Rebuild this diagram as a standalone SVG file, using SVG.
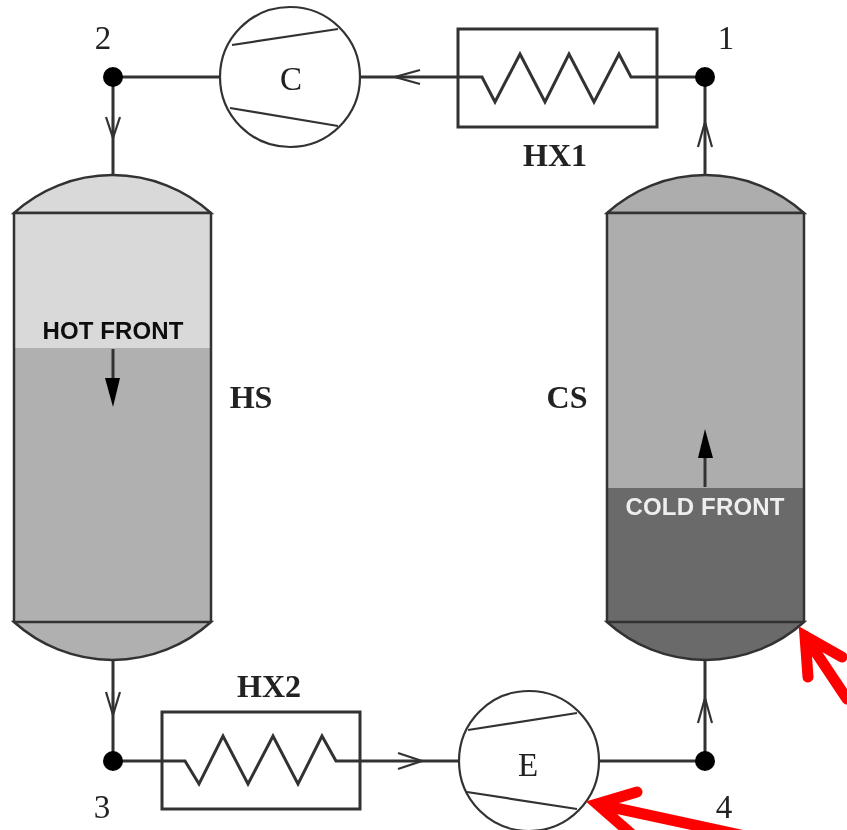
<svg xmlns="http://www.w3.org/2000/svg" width="847" height="830" viewBox="0 0 847 830">
  <style>
    .ln { fill: none; stroke: #333; stroke-width: 3; }
    .thin { fill: none; stroke: #333; stroke-width: 2.2; }
    .head { fill: none; stroke: #333; stroke-width: 2.2; }
    .tank { stroke: #333; stroke-width: 2.5; }
    .lab { font-family: "Liberation Serif", "Times New Roman", serif; font-size: 33px; fill: #222; }
    .b { font-weight: bold; font-size: 32px; }
    .front { font-family: "Liberation Sans", Arial, sans-serif; font-size: 24px; font-weight: bold; }
    .dot { fill: #000; }
    .red { fill: none; stroke: #f00; stroke-width: 11; stroke-linecap: round; stroke-linejoin: miter; stroke-miterlimit: 10; }
  </style>
  <defs>
    <filter id="soft" x="-5%" y="-5%" width="110%" height="110%"><feGaussianBlur stdDeviation="0.6"/></filter>
  </defs>
  <rect width="847" height="830" fill="#fff"/>
  <g filter="url(#soft)">
    <g id="connectors">
      <path class="ln" d="M113 77H220M360 77H458M657 77H705M113 77V175M113 661V761M113 761H162M360 761H459M599 761H705M705 761V661M705 175V77"/>
      <path class="head" d="M106 117L113 138L120 117M113 117V138"/>
      <path class="head" d="M106 692L113 715L120 692M113 692V715"/>
      <path class="head" d="M420 70L395 77L420 84"/>
      <path class="head" d="M398 753L422 761L398 769"/>
      <path class="head" d="M698 147L705 122L712 147"/>
      <path class="head" d="M698 723L705 698L712 723"/>
    </g>
    <g id="node-2"><circle class="dot" cx="113" cy="77" r="10"/><text class="lab" x="103" y="49" text-anchor="middle">2</text></g>
    <g id="node-1"><circle class="dot" cx="705" cy="77" r="10"/><text class="lab" x="726" y="49" text-anchor="middle">1</text></g>
    <g id="node-3"><circle class="dot" cx="113" cy="761" r="10"/><text class="lab" x="102" y="818" text-anchor="middle">3</text></g>
    <g id="node-4"><circle class="dot" cx="705" cy="761" r="10"/><text class="lab" x="724" y="818" text-anchor="middle">4</text></g>
    <g id="compressor-C">
      <circle class="thin" cx="290" cy="77" r="70" style="fill:#fff"/>
      <path class="thin" d="M232 45L338 29M230 108L338 126"/>
      <text class="lab" x="291" y="90" text-anchor="middle">C</text>
    </g>
    <g id="expander-E">
      <circle class="thin" cx="529" cy="761" r="70" style="fill:#fff"/>
      <path class="thin" d="M468 730L577 713M467 792L577 809"/>
      <text class="lab" x="528" y="776" text-anchor="middle">E</text>
    </g>
    <g id="HX1">
      <rect class="ln" x="458" y="29" width="199" height="98"/>
      <path class="ln" d="M458 77H482L495 102L520 54L545 102L569 54L594 102L619 54L631 77H657"/>
      <text class="lab b" x="555" y="166" text-anchor="middle">HX1</text>
    </g>
    <g id="HX2">
      <rect class="ln" x="162" y="712" width="198" height="97"/>
      <path class="ln" d="M162 761H185L199 784L223 736L248 784L273 736L298 784L322 736L336 761H360"/>
      <text class="lab b" x="269" y="697" text-anchor="middle">HX2</text>
    </g>
    <g id="HS">
      <path d="M14 213A147 147 0 0 1 211 213Z" fill="#d9d9d9" class="tank"/>
      <rect x="14" y="213" width="197" height="135" fill="#d9d9d9"/>
      <rect x="14" y="348" width="197" height="274" fill="#b0b0b0"/>
      <path d="M14 622A147 147 0 0 0 211 622Z" fill="#b0b0b0" class="tank"/>
      <path d="M14 213H211M14 213V622M211 213V622" class="tank" fill="none"/>
      <text class="front" x="113" y="339" text-anchor="middle" fill="#111" textLength="141">HOT FRONT</text>
      <path d="M113 349V380" stroke="#333" stroke-width="3" fill="none"/>
      <path d="M105 378H120L113 407Z" fill="#000"/>
      <text class="lab b" x="251" y="408" text-anchor="middle">HS</text>
    </g>
    <g id="CS">
      <path d="M607 213A147 147 0 0 1 804 213Z" fill="#adadad" class="tank"/>
      <rect x="607" y="213" width="197" height="275" fill="#adadad"/>
      <rect x="607" y="488" width="197" height="134" fill="#6a6a6a"/>
      <path d="M607 622A147 147 0 0 0 804 622Z" fill="#6a6a6a" class="tank"/>
      <path d="M607 213H804M607 213V622M804 213V622" class="tank" fill="none"/>
      <text class="front" x="705" y="515" text-anchor="middle" fill="#eee" textLength="159">COLD FRONT</text>
      <path d="M705 487V455" stroke="#333" stroke-width="3" fill="none"/>
      <path d="M698 458H713L705 429Z" fill="#000"/>
      <text class="lab b" x="567" y="408" text-anchor="middle">CS</text>
    </g>
  </g>
  <g id="annotation-arrows">
    <path class="red" d="M808 677L805 636L842 657M805 636L847 699"/>
    <path class="red" d="M637 792L597 804L636 838M597 804L745 836"/>
  </g>
</svg>
